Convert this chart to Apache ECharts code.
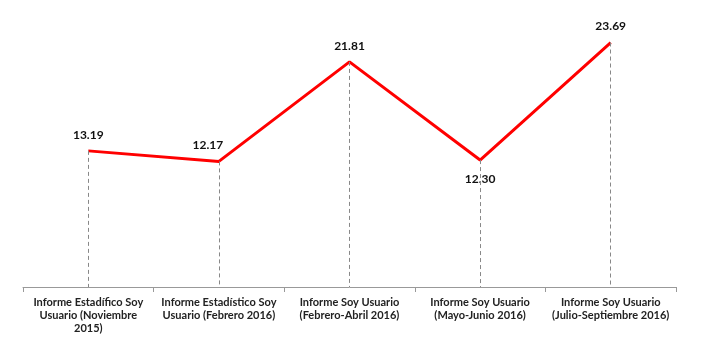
<!DOCTYPE html>
<html>
<head>
<meta charset="utf-8">
<script src="https://cdn.jsdelivr.net/npm/echarts@6/dist/echarts.min.js"></script>
<style>
html,body{margin:0;padding:0;background:#fff;}
#chart{width:704px;height:352px;}
</style>
</head>
<body>
<div id="chart"></div>
<script>
var categories=['Informe Estadífico Soy\nUsuario (Noviembre\n2015)','Informe Estadístico Soy\nUsuario (Febrero 2016)','Informe Soy Usuario\n(Febrero-Abril 2016)','Informe Soy Usuario\n(Mayo-Junio 2016)','Informe Soy Usuario\n(Julio-Septiembre 2016)'];
var values=[13.19,12.17,21.81,12.30,23.69];
var labelBelow=[false,false,false,true,false];

var chart=echarts.init(document.getElementById('chart'));

// linea punteada desde cada punto hasta el eje
var dropLines=values.map(function(v,i){
	return [{coord:[i,v]},{coord:[i,0]}];
});

// ajuste de etiquetas
var labelOffsets=[[0,0],[-11,0],[0,0],[0,3],[0,0]];

var option={
	animation:false,
	grid:{left:23,right:28,top:29,bottom:65},
	xAxis:{
		type:'category',
		data:categories,
		boundaryGap:true,
		axisLine:{lineStyle:{color:'#999',width:1}},
		axisTick:{show:true,length:5,lineStyle:{color:'#999'}},
		axisLabel:{
			interval:0,
			color:'#222',
			fontFamily:'Lato',
			fontWeight:'bold',
			fontSize:11,
			lineHeight:13,
			margin:9
		}
	},
	yAxis:{
		type:'value',
		min:0,
		max:25,
		show:false,
		splitLine:{show:false}
	},
	series:[{
		type:'line',
		data:values.map(function(v,i){
			return {value:v,label:{position:labelBelow[i]?'bottom':'top',offset:labelOffsets[i]}};
		}),
		showSymbol:true,
		symbol:'circle',
		symbolSize:2,
		itemStyle:{color:'rgba(255,0,0,0)',borderWidth:0},
		lineStyle:{color:'#ff0000',width:3},
		label:{
			show:true,
			color:'#111',
			fontFamily:'Lato',
			fontWeight:'bold',
			fontSize:12,
			distance:9,
			formatter:function(p){return p.value.toFixed(2);}
		},
		markLine:{
			silent:true,
			symbol:['none','none'],
			label:{show:false},
			lineStyle:{type:[4,3],color:'#888',width:1},
			data:dropLines
		},
		z:3
	}]
};
chart.setOption(option);
</script>
</body>
</html>
